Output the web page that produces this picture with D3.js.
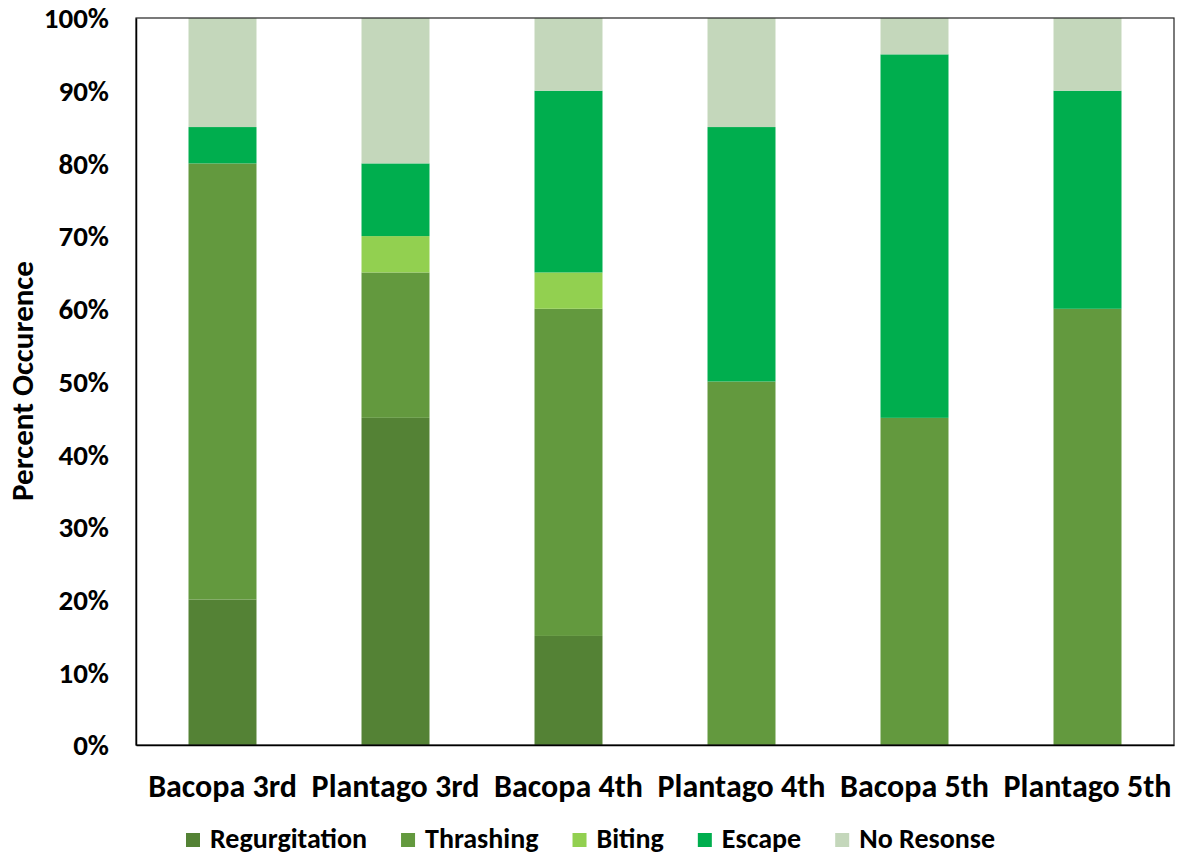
<!DOCTYPE html>
<html>
<head>
<meta charset="utf-8">
<script src="https://cdn.jsdelivr.net/npm/d3@7"></script>
<style>
  html, body { margin: 0; padding: 0; background: #fff; }
  svg text { font-family: Carlito, Calibri, "Liberation Sans Narrow", Lato, "Open Sans", sans-serif; font-weight: bold; fill: #000; }
</style>
</head>
<body>
<svg id="chart" width="1182" height="858"></svg>
<script>
// Larval defensive behaviour by host plant and instar (percent of trials)
const categories = ["Bacopa 3rd", "Plantago 3rd", "Bacopa 4th", "Plantago 4th", "Bacopa 5th", "Plantago 5th"];
const seriesNames = ["Regurgitation", "Thrashing", "Biting", "Escape", "No Resonse"];
const regurgitation = [20, 45, 15, 0, 0, 0];
const thrashing     = [60, 20, 45, 50, 45, 60];
const biting        = [0, 5, 5, 0, 0, 0];
const escape        = [5, 10, 25, 35, 50, 30];
const noResponse    = [15, 20, 10, 15, 5, 10];
const yTicks = [0, 10, 20, 30, 40, 50, 60, 70, 80, 90, 100];
const colors = ["#548235", "#63993E", "#92D050", "#00AE4E", "#C4D7BB"];

const table = categories.map((c, i) => ({
  category: c,
  "Regurgitation": regurgitation[i],
  "Thrashing": thrashing[i],
  "Biting": biting[i],
  "Escape": escape[i],
  "No Resonse": noResponse[i]
}));

const svg = d3.select("#chart");
const plotLeft = 136, plotRight = 1174, plotTop = 18, plotBottom = 745;

const x = d3.scaleBand().domain(categories).range([plotLeft, plotRight]).paddingInner(0.607).paddingOuter(0.3035);
const y = d3.scaleLinear().domain([0, 100]).range([plotBottom, plotTop]);
const color = d3.scaleOrdinal().domain(seriesNames).range(colors);

const stacked = d3.stack().keys(seriesNames)(table);

svg.append("g")
  .selectAll("g")
  .data(stacked)
  .join("g")
  .attr("fill", d => color(d.key))
  .selectAll("rect")
  .data(d => d)
  .join("rect")
  .attr("x", d => x(d.data.category))
  .attr("width", x.bandwidth())
  .attr("y", d => y(d[1]))
  .attr("height", d => y(d[0]) - y(d[1]));

// Plot area frame
svg.append("rect")
  .attr("x", plotLeft).attr("y", plotTop)
  .attr("width", plotRight - plotLeft).attr("height", plotBottom - plotTop)
  .attr("fill", "none").attr("stroke", "#222").attr("stroke-width", 1.2);

// Y axis
const yAxis = svg.append("g")
  .attr("transform", `translate(${plotLeft},0)`)
  .call(d3.axisLeft(y).tickValues(yTicks).tickFormat(d => d + "%").tickSize(0).tickPadding(27));
yAxis.select(".domain").attr("stroke", "#000").attr("stroke-width", 1.5);
yAxis.selectAll("text").style("font-size", "29px").attr("dy", "0.34em");

// X axis
const xAxis = svg.append("g")
  .attr("transform", `translate(0,${plotBottom})`)
  .call(d3.axisBottom(x).tickSize(0));
xAxis.select(".domain").attr("stroke", "#000").attr("stroke-width", 1.5);
xAxis.selectAll("text").style("font-size", "32px").attr("y", 52).attr("dy", 0);

// Y axis title
svg.append("text")
  .attr("transform", "translate(33,381) rotate(-90)")
  .attr("text-anchor", "middle")
  .style("font-size", "31px")
  .text("Percent Occurence");

// Legend: items laid out in a row between the given edges
const legendStart = 186, legendEnd = 995, swatch = 14, swatchGap = 10;
const legend = svg.append("g");
const items = legend.selectAll("g")
  .data(seriesNames)
  .join("g");
items.append("rect")
  .attr("y", 833)
  .attr("width", swatch).attr("height", swatch)
  .attr("fill", d => color(d));
items.append("text")
  .attr("x", swatch + swatchGap).attr("y", 848)
  .style("font-size", "28px")
  .text(d => d);
const widths = [];
items.each(function () { widths.push(swatch + swatchGap + this.querySelector("text").getComputedTextLength()); });
const gap = (legendEnd - legendStart - d3.sum(widths)) / (widths.length - 1);
let cursor = legendStart;
items.attr("transform", (d, i) => {
  const t = `translate(${cursor},0)`;
  cursor += widths[i] + gap;
  return t;
});
</script>
</body>
</html>
